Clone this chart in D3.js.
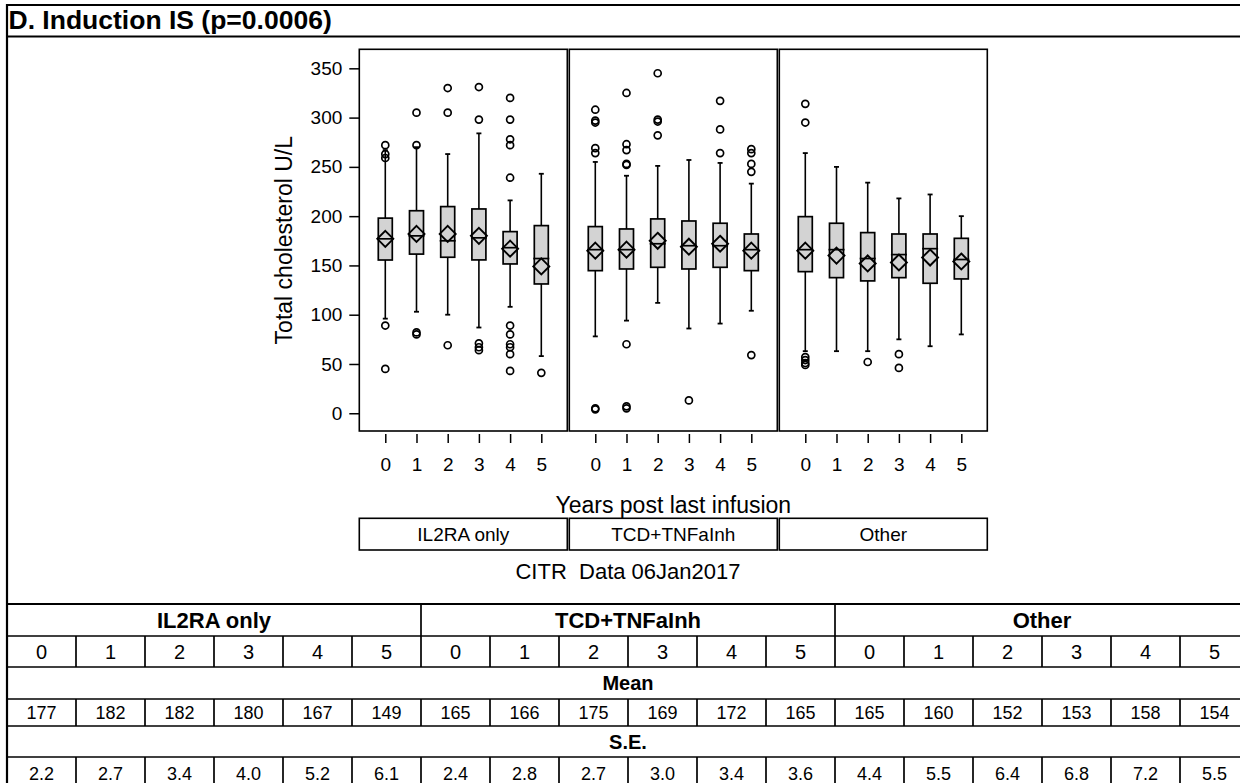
<!DOCTYPE html>
<html>
<head>
<meta charset="utf-8">
<script src="https://cdn.jsdelivr.net/npm/d3@7"></script>
<style>
  html, body { margin: 0; padding: 0; background: #fff; }
  svg { display: block; font-family: "Liberation Sans", Arial, sans-serif; }
</style>
</head>
<body>
<svg id="chart" width="1240" height="783"></svg>
<script>
// ---------------- DATA ----------------
const title = "D. Induction IS (p=0.0006)";
const groups = ["IL2RA only", "TCD+TNFaInh", "Other"];
const years = [0, 1, 2, 3, 4, 5];
const yTicks = [0, 50, 100, 150, 200, 250, 300, 350];
const yLabel = "Total cholesterol U/L";
const xLabel = "Years post last infusion";
const footnote = "CITR  Data 06Jan2017";

// Means (diamonds, table)
const meanIL2RA = [177, 182, 182, 180, 167, 149];
const meanTCD   = [165, 166, 175, 169, 172, 165];
const meanOther = [165, 160, 152, 153, 158, 154];
// Standard errors (table)
const seIL2RA = [2.2, 2.7, 3.4, 4.0, 5.2, 6.1];
const seTCD   = [2.4, 2.8, 2.7, 3.0, 3.4, 3.6];
const seOther = [4.4, 5.5, 6.4, 6.8, 7.2, 5.5];

// Box statistics
const q1IL2RA  = [155.5, 161.5, 158.3, 155.6, 151.5, 131.2];
const medIL2RA = [177, 180, 175, 178, 168, 157];
const q3IL2RA  = [198, 205.5, 209.7, 207.3, 184.3, 190.4];
const loIL2RA  = [96, 103, 100, 87, 108, 58];
const hiIL2RA  = [267, 270, 263, 284, 216, 243];
const outIL2RA = [
  [272, 263, 259, 89, 45],
  [305, 272, 82, 80],
  [330, 305, 69],
  [331, 298, 71, 67, 64],
  [320, 298, 278, 272, 239, 89, 80, 70, 67, 60, 43],
  [41]
];

const q1TCD  = [144.7, 146.4, 148.1, 146.4, 148.1, 144.7];
const medTCD = [166, 166, 172, 170, 170, 166];
const q3TCD  = [189.4, 187, 197.2, 195.1, 192.8, 181.9];
const loTCD  = [78, 94, 112, 86, 91, 104];
const hiTCD  = [255, 241, 251, 257, 254, 233];
const outTCD = [
  [308, 297, 295, 269, 264, 5, 4],
  [325, 273, 267, 253, 252, 70, 7, 5],
  [345, 298, 296, 282],
  [13],
  [317, 288, 264],
  [268, 264, 253, 245, 59]
];

const q1Other  = [143.7, 137.6, 134.3, 137.6, 131.9, 136.3];
const medOther = [166, 166, 157, 161, 167, 156];
const q3Other  = [199.5, 192.8, 183.3, 181.9, 181.9, 177.5];
const loOther  = [63, 63, 63, 75, 68, 80];
const hiOther  = [264, 250, 234, 218, 222, 200];
const outOther = [
  [314, 295, 57, 54, 51, 49],
  [],
  [52],
  [60, 46],
  [],
  []
];

// ---------------- BUILD ----------------
const boxData = [
  {name: groups[0], mean: meanIL2RA, se: seIL2RA, q1: q1IL2RA, med: medIL2RA, q3: q3IL2RA, lo: loIL2RA, hi: hiIL2RA, out: outIL2RA},
  {name: groups[1], mean: meanTCD,   se: seTCD,   q1: q1TCD,   med: medTCD,   q3: q3TCD,   lo: loTCD,   hi: hiTCD,   out: outTCD},
  {name: groups[2], mean: meanOther, se: seOther, q1: q1Other, med: medOther, q3: q3Other, lo: loOther, hi: hiOther, out: outOther}
];

const svg = d3.select("#chart");
const FONT = '"Liberation Sans", Arial, sans-serif';

// layout
const frameL = 7, frameR = 1249, frameT = 5;
const titleSep = 36.5, tableTop = 604;
const panelX0 = 359.3, panelW = 208, panelStep = 210;
const panelTop = 49.3, panelBot = 431;

const y = d3.scaleLinear().domain([-18, 369.3]).range([panelBot, panelTop]);
const xScales = boxData.map((d, g) =>
  d3.scalePoint().domain(years).range([panelX0 + g * panelStep, panelX0 + g * panelStep + panelW]).padding(0.833)
);

// outer frame
svg.append("line").attr("x1", frameL).attr("x2", frameL).attr("y1", frameT - 1).attr("y2", 800)
  .attr("stroke", "#000").attr("stroke-width", 2.2);
svg.append("line").attr("x1", frameR).attr("x2", frameR).attr("y1", frameT - 1).attr("y2", 800)
  .attr("stroke", "#000").attr("stroke-width", 2.2);
[frameT, titleSep, tableTop].forEach(yy => {
  svg.append("line").attr("x1", frameL - 1).attr("x2", frameR + 1).attr("y1", yy).attr("y2", yy)
    .attr("stroke", "#000").attr("stroke-width", 2.2);
});

// title
svg.append("text").attr("x", 8.5).attr("y", 28.5)
  .attr("font-size", 26.5).attr("font-weight", "bold").attr("fill", "#000")
  .text(title);

// panels
const panels = svg.append("g");
boxData.forEach((grp, g) => {
  const x = xScales[g];
  const x0 = panelX0 + g * panelStep;
  panels.append("rect").attr("x", x0).attr("y", panelTop).attr("width", panelW).attr("height", panelBot - panelTop)
    .attr("fill", "none").attr("stroke", "#000").attr("stroke-width", 1.6);

  const bw = 7, cap = 2.5, dm = 8;
  years.forEach((yr, i) => {
    const cx = x(yr);
    const gg = panels.append("g");
    // whiskers
    gg.append("line").attr("x1", cx).attr("x2", cx).attr("y1", y(grp.lo[i])).attr("y2", y(grp.hi[i]))
      .attr("stroke", "#000").attr("stroke-width", 1.6);
    [grp.lo[i], grp.hi[i]].forEach(v => {
      gg.append("line").attr("x1", cx - cap).attr("x2", cx + cap).attr("y1", y(v)).attr("y2", y(v))
        .attr("stroke", "#000").attr("stroke-width", 1.8);
    });
    // box
    gg.append("rect").attr("x", cx - bw).attr("width", 2 * bw)
      .attr("y", y(grp.q3[i])).attr("height", y(grp.q1[i]) - y(grp.q3[i]))
      .attr("fill", "#d3d3d3").attr("stroke", "#000").attr("stroke-width", 1.7);
    // median
    gg.append("line").attr("x1", cx - bw - 1).attr("x2", cx + bw + 1).attr("y1", y(grp.med[i])).attr("y2", y(grp.med[i]))
      .attr("stroke", "#000").attr("stroke-width", 1.7);
    // mean diamond
    const my = y(grp.mean[i]);
    gg.append("path").attr("d", `M${cx},${my - dm}L${cx + dm},${my}L${cx},${my + dm}L${cx - dm},${my}Z`)
      .attr("fill", "none").attr("stroke", "#000").attr("stroke-width", 1.9);
    // outliers
    gg.selectAll("circle").data(grp.out[i]).join("circle")
      .attr("cx", cx).attr("cy", d => y(d)).attr("r", 3.5)
      .attr("fill", "none").attr("stroke", "#000").attr("stroke-width", 1.7);
  });

  // x axis
  const ax = svg.append("g").attr("transform", `translate(0,434)`)
    .call(d3.axisBottom(x).tickSize(9).tickPadding(15));
  ax.select(".domain").remove();
  ax.selectAll("line").attr("stroke", "#000").attr("stroke-width", 1.5);
  ax.selectAll("text").attr("font-size", 19).attr("font-family", FONT).attr("fill", "#000");

  // strip
  svg.append("rect").attr("x", x0).attr("y", 518.3).attr("width", panelW).attr("height", 31.7)
    .attr("fill", "none").attr("stroke", "#000").attr("stroke-width", 1.6);
  svg.append("text").attr("x", x0 + panelW / 2).attr("y", 534.5).attr("dy", "0.35em")
    .attr("text-anchor", "middle").attr("font-size", 19).attr("fill", "#000").text(grp.name);
});

// y axis
const yax = svg.append("g").attr("transform", `translate(${panelX0},0)`)
  .call(d3.axisLeft(y).tickValues(yTicks).tickSize(10).tickPadding(7));
yax.select(".domain").remove();
yax.selectAll("line").attr("stroke", "#000").attr("stroke-width", 1.5);
yax.selectAll("text").attr("font-size", 19).attr("font-family", FONT).attr("fill", "#000");

// axis labels
svg.append("text").attr("transform", `translate(292,240.2) rotate(-90)`)
  .attr("text-anchor", "middle").attr("font-size", 23).attr("fill", "#000").text(yLabel);
svg.append("text").attr("x", 673.3).attr("y", 513)
  .attr("text-anchor", "middle").attr("font-size", 23).attr("fill", "#000").text(xLabel);
svg.append("text").attr("x", 628).attr("y", 579).style("white-space", "pre")
  .attr("text-anchor", "middle").attr("font-size", 22).attr("fill", "#000").text(footnote);

// ---------------- TABLE ----------------
const colW = 69, tX0 = frameL;
const rowY = [604, 636, 667, 699, 726, 757, 790];
const nCols = groups.length * years.length;
const tbl = svg.append("g");
const cols = d3.range(nCols);
const colX = c => tX0 + c * colW;

rowY.slice(1).forEach(yy => {
  tbl.append("line").attr("x1", tX0).attr("x2", tX0 + nCols * colW).attr("y1", yy).attr("y2", yy)
    .attr("stroke", "#000").attr("stroke-width", 1.7);
});
// group separators in header row
groups.forEach((gname, g) => {
  if (g > 0) {
    tbl.append("line").attr("x1", colX(g * 6)).attr("x2", colX(g * 6)).attr("y1", rowY[0]).attr("y2", rowY[1])
      .attr("stroke", "#000").attr("stroke-width", 1.7);
  }
  tbl.append("text").attr("x", colX(g * 6 + 3)).attr("y", (rowY[0] + rowY[1]) / 2).attr("dy", "0.36em")
    .attr("text-anchor", "middle").attr("font-size", 22).attr("font-weight", "bold").text(gname);
});
// column lines for numeric rows
[1, 3, 5].forEach(r => {
  cols.slice(1).forEach(c => {
    tbl.append("line").attr("x1", colX(c)).attr("x2", colX(c)).attr("y1", rowY[r]).attr("y2", rowY[r + 1])
      .attr("stroke", "#000").attr("stroke-width", 1.7);
  });
});
const allYears = groups.flatMap(() => years);
const allMeans = boxData.flatMap(d => d.mean);
const allSE = boxData.flatMap(d => d.se);
const rowText = (arr, r, size, fmt) => {
  tbl.selectAll(null).data(arr).join("text")
    .attr("x", (d, i) => colX(i) + colW / 2).attr("y", (rowY[r] + rowY[r + 1]) / 2).attr("dy", "0.36em")
    .attr("text-anchor", "middle").attr("font-size", size).text(fmt);
};
rowText(allYears, 1, 20, d => d);
rowText(allMeans, 3, 18, d => d);
rowText(allSE, 5, 18, d => d.toFixed(1));
tbl.append("text").attr("x", colX(nCols / 2)).attr("y", (rowY[2] + rowY[3]) / 2).attr("dy", "0.36em")
  .attr("text-anchor", "middle").attr("font-size", 20).attr("font-weight", "bold").text("Mean");
tbl.append("text").attr("x", colX(nCols / 2)).attr("y", (rowY[4] + rowY[5]) / 2).attr("dy", "0.36em")
  .attr("text-anchor", "middle").attr("font-size", 20).attr("font-weight", "bold").text("S.E.");
</script>
</body>
</html>
